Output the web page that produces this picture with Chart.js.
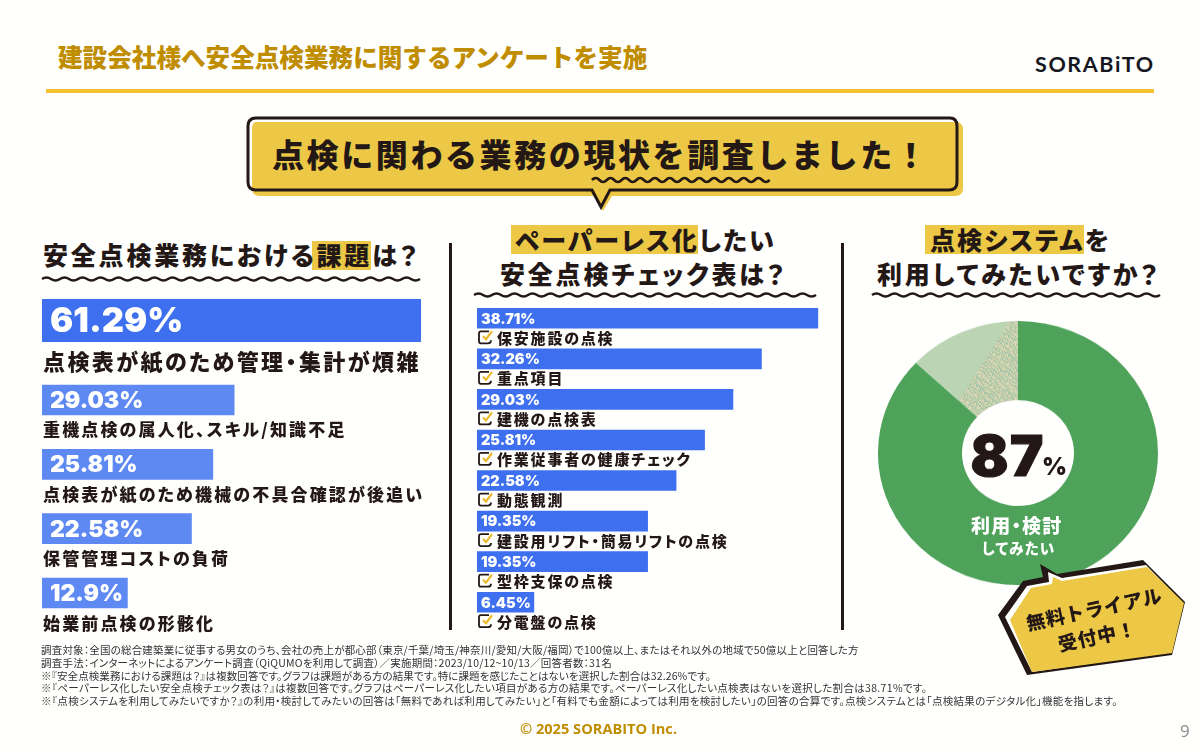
<!DOCTYPE html>
<html lang="ja">
<head>
<meta charset="utf-8">
<title>建設会社様へ安全点検業務に関するアンケートを実施</title>
<script src="https://cdn.jsdelivr.net/npm/chart.js@4"></script>
<style>
    html, body { margin: 0; padding: 0; background: #fffffe; }
    body { position: relative; width: 1200px; height: 752px; overflow: hidden; color: #231815;
        font-family: "Noto Sans CJK JP", sans-serif; font-feature-settings: "palt"; }
    .t { position: absolute; white-space: nowrap; line-height: 1; }
    .chart { position: absolute; }
    .block { position: absolute; }
    .head { font-size: 25px; font-weight: 900; letter-spacing: 2.8px; }
    .mark { position: absolute; background: #ecc846; }
    .note { left: 41px; font-size: 10.5px; color: #333; font-weight: 400; }
    svg { position: absolute; left: 0; top: 0; }
</style>
</head>
<body>

<div class="t" style="left:58px;top:44px;font-size:24.6px;font-weight:900;color:#c08d00;font-feature-settings:normal;">建設会社様へ安全点検業務に関するアンケートを実施</div>
<div class="t" style="left:1035px;top:54px;font-family:'Lato';font-size:21.5px;font-weight:700;letter-spacing:1.6px;color:#17171f;">SORABiTO</div>
<div class="block" style="left:46px;top:89px;width:1108px;height:4px;background:#f6c12f;"></div>

<svg width="1200" height="752">
    <path d="M256 122 H956 Q963 122 963 130 V188 Q963 196 955 196 H612 L603 211 L596 196 H260 Q252 196 252 188 V130 Q252 122 256 122 Z" fill="#ecc846"/>
    <path d="M256 118 H950 Q957 118 957 126 V182 Q957 190 949 190 H610 L601 207 L592 190 H256 Q248 190 248 182 V126 Q248 118 256 118 Z" fill="none" stroke="#231815" stroke-width="3"/>
    <g id="waves" fill="none" stroke="#231815" stroke-width="2.6"></g>
</svg>

<div class="t" style="left:272px;top:137px;font-size:32px;font-weight:900;letter-spacing:2.6px;font-feature-settings:normal;">点検に関わる業務の現状を調査しました！</div>

<div class="mark" style="left:312px;top:241px;width:59px;height:29px;"></div>
<div class="t head" style="left:43px;top:242px;">安全点検業務における課題は？</div>

<div class="mark" style="left:511px;top:225px;width:187px;height:29px;"></div>
<div class="t head" style="left:515px;top:227px;letter-spacing:2.1px;">ペーパーレス化したい</div>
<div class="t head" style="left:500px;top:261px;">安全点検チェック表は？</div>

<div class="mark" style="left:925px;top:225px;width:159px;height:29px;"></div>
<div class="t head" style="left:930px;top:227px;letter-spacing:2.1px;">点検システムを</div>
<div class="t head" style="left:877px;top:261px;">利用してみたいですか？</div>

<div class="block" style="left:449px;top:243px;width:3px;height:387px;background:#231815;"></div>
<div class="block" style="left:841px;top:243px;width:3px;height:387px;background:#231815;"></div>

<canvas id="leftTop" class="chart" width="400" height="85" style="left:30px;top:295px;width:400px;height:85px;"></canvas>
<canvas id="leftRest" class="chart" width="400" height="275" style="left:30px;top:360px;width:400px;height:275px;"></canvas>
<canvas id="middle" class="chart" width="370" height="335" style="left:465px;top:295px;width:370px;height:335px;"></canvas>
<!-- the ring is a little wider than tall in the picture, so the canvas is squeezed by css -->
<canvas id="donut" class="chart" width="280" height="280" style="left:877.5px;top:321.3px;width:280px;height:264px;"></canvas>

<div class="t" style="left:970.5px;top:428px;font-family:Inter;font-size:56px;font-weight:900;letter-spacing:1.5px;-webkit-text-stroke:1.2px #231815;color:#231815;">87</div>
<div class="t" style="left:1042px;top:455px;font-family:Inter;font-size:24px;font-weight:900;color:#231815;">%</div>
<div class="t" style="left:971px;top:515px;font-size:19px;font-weight:900;color:#fff;letter-spacing:1.2px;">利用・検討</div>
<div class="t" style="left:982px;top:541px;font-size:14.5px;font-weight:900;color:#fff;letter-spacing:1.2px;">してみたい</div>

<svg width="1200" height="752">
    <path d="M998 615 L1023 581 L1043 577 L1040 564 L1057 574 L1143 560 L1185 602 L1172 655 L1027 675 Z" fill="#231815"/>
    <path d="M1005 617 L1027 586 L1049 582 L1048 572 L1062 578 L1146 565 L1183 603 L1170 652 L1032 672 Z" fill="#fffffe"/>
    <path d="M1010 620 L1031 588 L1052 584 L1053 577 L1062 581 L1147 567 L1184 603 L1172 653 L1032 672 Z" fill="#ecc846"/>
</svg>
<div class="t" style="left:1094px;top:608px;font-size:19px;font-weight:900;letter-spacing:0.8px;font-feature-settings:normal;transform:translate(-50%,-50%) rotate(-12deg);">無料トライアル</div>
<div class="t" style="left:1097px;top:635px;font-size:19px;font-weight:900;letter-spacing:1px;font-feature-settings:normal;transform:translate(-50%,-50%) rotate(-12deg);">受付中！</div>

<div class="t note" style="top:645px;letter-spacing:0.2px;">調査対象：全国の総合建築業に従事する男女のうち、会社の売上が都心部（東京/千葉/埼玉/神奈川/愛知/大阪/福岡）で100億以上、またはそれ以外の地域で50億以上と回答した方</div>
<div class="t note" style="top:658px;letter-spacing:0.21px;">調査手法：インターネットによるアンケート調査（QiQUMOを利用して調査）／実施期間：2023/10/12~10/13／回答者数：31名</div>
<div class="t note" style="top:671px;letter-spacing:0.1px;">※『安全点検業務における課題は？』は複数回答です。グラフは課題がある方の結果です。特に課題を感じたことはないを選択した割合は32.26%です。</div>
<div class="t note" style="top:683px;letter-spacing:0.32px;">※『ペーパーレス化したい安全点検チェック表は？』は複数回答です。グラフはペーパーレス化したい項目がある方の結果です。ペーパーレス化したい点検表はないを選択した割合は38.71%です。</div>
<div class="t note" style="top:696px;letter-spacing:0.3px;">※『点検システムを利用してみたいですか？』の利用・検討してみたいの回答は「無料であれば利用してみたい」と「有料でも金額によっては利用を検討したい」の回答の合算です。点検システムとは「点検結果のデジタル化」機能を指します。</div>

<div class="t" style="left:520px;top:721px;font-family:'Open Sans';font-size:14.6px;font-weight:700;color:#c08d00;">© 2025 SORABITO Inc.</div>
<div class="t" style="left:1180px;top:722px;font-family:'Open Sans';font-size:17px;color:#8c8c8c;">9</div>

<script>
// values
const topIssueLabels = ['点検表が紙のため管理・集計が煩雑'];
const topIssueValues = [61.29];
const issueLabels = ['重機点検の属人化、スキル/知識不足', '点検表が紙のため機械の不具合確認が後追い', '保管管理コストの負荷', '始業前点検の形骸化'];
const issueValues = [29.03, 25.81, 22.58, 12.9];
const paperlessLabels = ['保安施設の点検', '重点項目', '建機の点検表', '作業従事者の健康チェック', '動態観測', '建設用リフト・簡易リフトの点検', '型枠支保の点検', '分電盤の点検'];
const paperlessValues = [38.71, 32.26, 29.03, 25.81, 22.58, 19.35, 19.35, 6.45];
const systemLabels = ['利用・検討してみたい', 'その他'];
const systemValues = [87, 13];

const DARK = '#231815';

// wavy underlines under the headings
function addWave(x1, x2, y, period, amp) {
    let d = 'M' + x1 + ' ' + y;
    for (let x = x1; x + period <= x2 + 1; x += period) {
        d += ' q' + period / 4 + ' ' + (-amp) + ' ' + period / 2 + ' 0 t' + period / 2 + ' 0';
    }
    const path = document.createElementNS('http://www.w3.org/2000/svg', 'path');
    path.setAttribute('d', d);
    document.getElementById('waves').appendChild(path);
}
addWave(42, 421, 279, 18, 3);
addWave(474, 816, 295, 18, 3);
addWave(872, 1160, 295, 18, 3);
addWave(592, 770, 180, 14.8, 4);

function drawCheck(ctx, x, y) {
    ctx.save();
    ctx.lineWidth = 1.8;
    ctx.strokeStyle = DARK;
    ctx.beginPath();
    ctx.moveTo(x + 10, y - 6);
    ctx.lineTo(x + 2, y - 6);
    ctx.quadraticCurveTo(x, y - 6, x, y - 4);
    ctx.lineTo(x, y + 4);
    ctx.quadraticCurveTo(x, y + 6, x + 2, y + 6);
    ctx.lineTo(x + 9, y + 6);
    ctx.quadraticCurveTo(x + 12, y + 6, x + 12, y + 3);
    ctx.stroke();
    ctx.strokeStyle = '#ecb92c';
    ctx.lineWidth = 2.2;
    ctx.beginPath();
    ctx.moveTo(x + 4, y - 1);
    ctx.lineTo(x + 7, y + 2);
    ctx.lineTo(x + 13, y - 6);
    ctx.stroke();
    ctx.restore();
}

// writes the value inside each bar, the item name goes under it as a page element
// so it can use the narrow kana and dots of the picture
const barText = {
    id: 'barText',
    afterDatasetsDraw(chart, args, opts) {
        const ctx = chart.ctx;
        const bars = chart.getDatasetMeta(0).data;
        ctx.save();
        ctx.textBaseline = 'middle';
        ctx.textAlign = 'left';
        bars.forEach((bar, i) => {
            const value = chart.data.datasets[0].data[i];
            ctx.fillStyle = '#fff';
            ctx.font = '900 ' + opts.valueSize + 'px Inter, sans-serif';
            ctx.fillText(value + '%', bar.base + opts.valueInset, bar.y + 1);
            if (opts.check) {
                drawCheck(ctx, bar.base + 2, bar.y + opts.labelDrop);
            }
            const name = document.createElement('div');
            name.className = 't';
            name.textContent = chart.data.labels[i];
            name.style.fontWeight = 900;
            name.style.fontSize = opts.labelSize + 'px';
            name.style.letterSpacing = opts.labelSpacing + 'px';
            name.style.left = chart.canvas.offsetLeft + bar.base + opts.labelInset + 'px';
            name.style.top = chart.canvas.offsetTop + bar.y + opts.labelDrop - opts.labelSize / 2 + 'px';
            document.body.appendChild(name);
        });
        ctx.restore();
    }
};

function barChart(id, labels, values, color, thickness, max, padding, text) {
    return new Chart(document.getElementById(id), {
        type: 'bar',
        data: {
            labels: labels,
            datasets: [{ data: values, backgroundColor: color, barThickness: thickness }]
        },
        options: {
            indexAxis: 'y',
            responsive: false,
            animation: false,
            layout: { padding: padding },
            scales: {
                x: { display: false, min: 0, max: max },
                y: { display: false }
            },
            plugins: {
                legend: { display: false },
                tooltip: { enabled: false },
                barText: text
            }
        },
        plugins: [barText]
    });
}

barChart('leftTop', topIssueLabels, topIssueValues, '#3d6fef', 43, 61.29,
    { left: 12, right: 9, top: 4, bottom: 38 },
    { valueSize: 34.5, valueInset: 8, labelSize: 22, labelSpacing: 2.4, labelInset: 1, labelDrop: 39.5 });

barChart('leftRest', issueLabels, issueValues, '#5f89f2', 30, 57.25,
    { left: 12, right: 9, top: 7.8, bottom: 9.8 },
    { valueSize: 23, valueInset: 8, labelSize: 17, labelSpacing: 2.15, labelInset: 1, labelDrop: 29 });

barChart('middle', paperlessLabels, paperlessValues, '#3d6fef', 20, 38.71,
    { left: 12, right: 16.7, top: 3, bottom: 7.5 },
    { valueSize: 14.5, valueInset: 4, labelSize: 15, labelSpacing: 1.8, labelInset: 20, labelDrop: 19, check: true });

// the pale slice has a speckled part in the picture, made here as a fill pattern
function speckle(ctx) {
    const off = document.createElement('canvas');
    off.width = 280;
    off.height = 280;
    const o = off.getContext('2d');
    const speck = ['#dcd9b0', '#9cc3a4', '#c6d0a8', '#a8c7b0', '#e0d6b4'];
    o.fillStyle = '#bbd5b4';
    o.fillRect(0, 0, 280, 280);
    for (let y = 0; y < 280; y++) {
        const edge = 131 - y * 0.6;
        for (let x = Math.ceil(edge); x < 280; x++) {
            o.fillStyle = speck[(x * 3 + y * 7 + (x ^ y)) % speck.length];
            o.fillRect(x, y, 1, 1);
        }
    }
    return ctx.createPattern(off, 'no-repeat');
}

const donutCanvas = document.getElementById('donut');
new Chart(donutCanvas, {
    type: 'doughnut',
    data: {
        labels: systemLabels,
        datasets: [{
            data: systemValues,
            backgroundColor: ['#4ea25a', speckle(donutCanvas.getContext('2d'))],
            borderWidth: 0
        }]
    },
    options: {
        responsive: false,
        animation: false,
        cutout: '40%',
        plugins: { legend: { display: false }, tooltip: { enabled: false } }
    }
});
</script>
</body>
</html>
